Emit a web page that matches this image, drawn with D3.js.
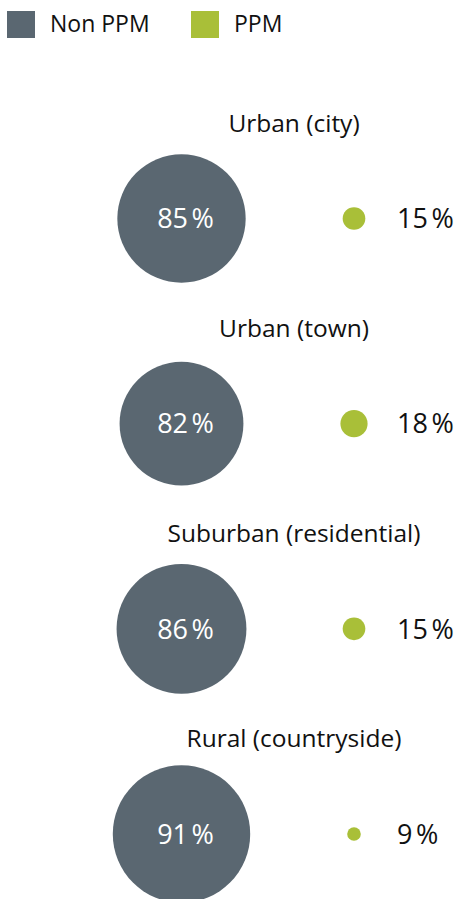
<!DOCTYPE html>
<html>
<head>
<meta charset="utf-8">
<script src="https://cdn.jsdelivr.net/npm/d3@7"></script>
<style>
  body { margin: 0; background: #fff; }
  svg { display: block; font-family: "Open Sans", sans-serif; }
</style>
</head>
<body>
<svg width="456" height="899"></svg>
<script>
const categories = ['Urban (city)', 'Urban (town)', 'Suburban (residential)', 'Rural (countryside)']
const nonPpm = [85, 82, 86, 91]
const ppm = [15, 18, 15, 9]
const seriesNames = ['Non PPM', 'PPM']

const svg = d3.select('svg')
const color = d3.scaleOrdinal().domain(seriesNames).range(['#5a6771', '#a9bf38'])

const data = categories.map((c, i) => ({ category: c, values: [nonPpm[i], ppm[i]] }))

const yScale = d3.scalePoint()
  .domain(categories)
  .range([218.5, 834])

const xScale = d3.scalePoint()
  .domain(seriesNames)
  .range([181.5, 354])

const rScale = d3.scaleLinear()
  .domain([0, 100])
  .range([0, 75.5])

const pct = v => v + '\u202F%'

// legend
const legend = svg.append('g').attr('transform', 'translate(7,11)')
const legendItems = legend.selectAll('g').data(seriesNames).join('g')
  .attr('transform', (d, i) => 'translate(' + (i * 184) + ',0)')
legendItems.append('rect')
  .attr('width', 28).attr('height', 27)
  .attr('fill', d => color(d))
legendItems.append('text')
  .attr('x', 43).attr('y', 21)
  .attr('font-size', 23)
  .attr('fill', '#111')
  .text(d => d)

// groups
const groups = svg.selectAll('g.group').data(data).join('g')
  .attr('class', 'group')
  .attr('transform', d => 'translate(0,' + yScale(d.category) + ')')

groups.append('text')
  .attr('x', 294)
  .attr('y', -87)
  .attr('text-anchor', 'middle')
  .attr('font-size', 24.5)
  .attr('fill', '#111')
  .text(d => d.category)

groups.selectAll('circle')
  .data(d => d.values.map((v, i) => ({ key: seriesNames[i], value: v })))
  .join('circle')
  .attr('cx', d => xScale(d.key))
  .attr('cy', 0)
  .attr('r', d => rScale(d.value))
  .attr('fill', d => color(d.key))

// value labels
groups.append('text')
  .attr('x', xScale('Non PPM') + 4)
  .attr('y', 0)
  .attr('dy', '0.36em')
  .attr('text-anchor', 'middle')
  .attr('font-size', 27)
  .attr('fill', '#fff')
  .text(d => pct(d.values[0]))

groups.append('text')
  .attr('x', xScale('PPM') + 43)
  .attr('y', 0)
  .attr('dy', '0.36em')
  .attr('font-size', 27)
  .attr('fill', '#111')
  .text(d => pct(d.values[1]))
</script>
</body>
</html>
